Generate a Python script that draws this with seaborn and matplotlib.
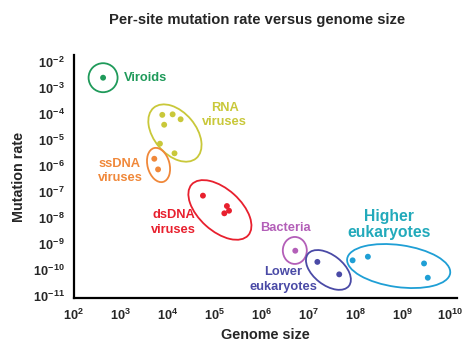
import numpy as np
import pandas as pd
import matplotlib
matplotlib.use("Agg")
import matplotlib.pyplot as plt
import seaborn as sns
from matplotlib.patches import Ellipse
from matplotlib.transforms import ScaledTranslation
from matplotlib.ticker import FuncFormatter, FixedLocator

# ---------------- data ----------------
groups = ["Viroids", "RNA viruses", "ssDNA viruses", "dsDNA viruses",
          "Bacteria", "Lower eukaryotes", "Higher eukaryotes"]
colors = ["#1f9a5a", "#c9c83a", "#f0883a", "#e8202e",
          "#b35fb8", "#4a4aa6", "#1f9fd5"]
text_colors = ["#1f9a5a", "#c9c83a", "#f0883a", "#e8202e",
               "#b35fb8", "#4a4aa6", "#22aabb"]

# log10 genome size / log10 mutation rate per point
viroid_x = [2.62]
viroid_y = [-2.60]
rna_x = [3.88, 4.10, 4.27, 3.92, 3.83, 4.14]
rna_y = [-4.03, -4.01, -4.20, -4.41, -5.14, -5.51]
ssdna_x = [3.71, 3.79]
ssdna_y = [-5.72, -6.13]
dsdna_x = [4.745, 5.255, 5.30, 5.20]
dsdna_y = [-7.14, -7.54, -7.72, -7.82]
bact_x = [6.71]
bact_y = [-9.26]
lower_x = [7.18, 7.645]
lower_y = [-9.69, -10.17]
higher_x = [7.93, 8.255, 9.45, 9.53]
higher_y = [-9.63, -9.49, -9.75, -10.30]

# ellipse: centre (log10 x, log10 y), width px, height px, angle deg
ell_cx = [2.62, 4.149, 3.80, 5.106, 6.70, 7.415, 8.91]
ell_cy = [-2.60, -4.73, -5.96, -7.69, -9.25, -10.00, -9.85]
ell_w = [29, 66, 22, 76, 24, 52, 104]
ell_h = [29, 42, 35, 42, 27, 30, 42]
ell_ang = [0, -50, 15, -42, 0, -38, -8]

# labels
label_text = ["Viroids", "RNA\nviruses", "ssDNA\nviruses", "dsDNA\nviruses",
              "Bacteria", "Lower\neukaryotes", "Higher\neukaryotes"]
label_x = [3.064, 5.21, 2.98, 4.117, 6.50, 6.45, 8.70]
label_y = [-2.60, -4.04, -6.19, -8.17, -8.40, -10.38, -8.26]
label_ha = ["left", "center", "center", "center", "center", "center", "center"]
label_size = [9.3, 9.3, 9.3, 9.3, 9.3, 9.3, 11.3]
label_ls = [1.3, 1.3, 1.25, 1.35, 1.3, 1.3, 1.05]

x_ticks = list(range(2, 11))
y_ticks = list(range(-11, -1))

# ---------------- build table ----------------
xs = [viroid_x, rna_x, ssdna_x, dsdna_x, bact_x, lower_x, higher_x]
ys = [viroid_y, rna_y, ssdna_y, dsdna_y, bact_y, lower_y, higher_y]
rows = []
for g, gx, gy in zip(groups, xs, ys):
    for a, b in zip(gx, gy):
        rows.append({"group": g, "size": 10 ** a, "rate": 10 ** b})
df = pd.DataFrame(rows)

# ---------------- plot ----------------
sns.set_style("white")
plt.rcParams["font.family"] = ["Liberation Sans", "DejaVu Sans"]
plt.rcParams["mathtext.fontset"] = "custom"
plt.rcParams["mathtext.rm"] = "Liberation Sans:bold"
plt.rcParams["mathtext.bf"] = "Liberation Sans:bold"
plt.rcParams["mathtext.it"] = "Liberation Sans:bold"

fig = plt.figure(figsize=(4.74, 3.51), dpi=100)
ax = fig.add_axes([0.156, 0.151, 0.808, 0.692])

sns.scatterplot(data=df, x="size", y="rate", hue="group", hue_order=groups,
                palette=dict(zip(groups, colors)), s=18, linewidth=0,
                legend=False, ax=ax, zorder=3)

ax.set_xscale("log")
ax.set_yscale("log")
ax.set_xlim(10 ** 2, 10 ** 10.15)
ax.set_ylim(10 ** -11.08, 10 ** -1.73)

ax.xaxis.set_major_locator(FixedLocator([10.0 ** k for k in x_ticks]))
ax.yaxis.set_major_locator(FixedLocator([10.0 ** k for k in y_ticks]))
fmt_x = FuncFormatter(lambda v, p: r"$\mathbf{10^{%d}}$" % int(round(np.log10(v))))
fmt_y = FuncFormatter(lambda v, p: r"$\mathbf{10^{-\,%d}}$" % abs(int(round(np.log10(v)))))
ax.xaxis.set_major_formatter(fmt_x)
ax.yaxis.set_major_formatter(fmt_y)
ax.xaxis.set_minor_locator(FixedLocator([]))
ax.yaxis.set_minor_locator(FixedLocator([]))
ax.tick_params(axis="both", which="major", length=3, width=1, labelsize=9.2,
               direction="out", color="black", pad=3)
ax.tick_params(axis="x", pad=4)

for side in ["top", "right"]:
    ax.spines[side].set_visible(False)
for side in ["left", "bottom"]:
    ax.spines[side].set_linewidth(1.6)
    ax.spines[side].set_color("black")

for cx, cy, w, h, ang, c in zip(ell_cx, ell_cy, ell_w, ell_h, ell_ang, colors):
    tr = fig.dpi_scale_trans + ScaledTranslation(10 ** cx, 10 ** cy, ax.transData)
    e = Ellipse((0, 0), w / 100.0, h / 100.0, angle=ang, transform=tr,
                fill=False, edgecolor=c, linewidth=1.3, zorder=2)
    ax.add_patch(e)

for t, lx, ly, ha, fs, ls, c in zip(label_text, label_x, label_y, label_ha,
                                    label_size, label_ls, text_colors):
    ax.text(10 ** lx, 10 ** ly, t, ha=ha, va="center", fontsize=fs,
            fontweight="bold", color=c, linespacing=ls, zorder=4)

ax.set_xlabel("Genome size", fontsize=10.4, fontweight="bold", labelpad=4)
ax.set_ylabel("Mutation rate", fontsize=10.4, fontweight="bold", labelpad=5)
fig.text(0.543, 0.943, "Per-site mutation rate versus genome size",
         ha="center", va="center", fontsize=10.6, fontweight="bold")

fig.savefig("out.png", dpi=100)
